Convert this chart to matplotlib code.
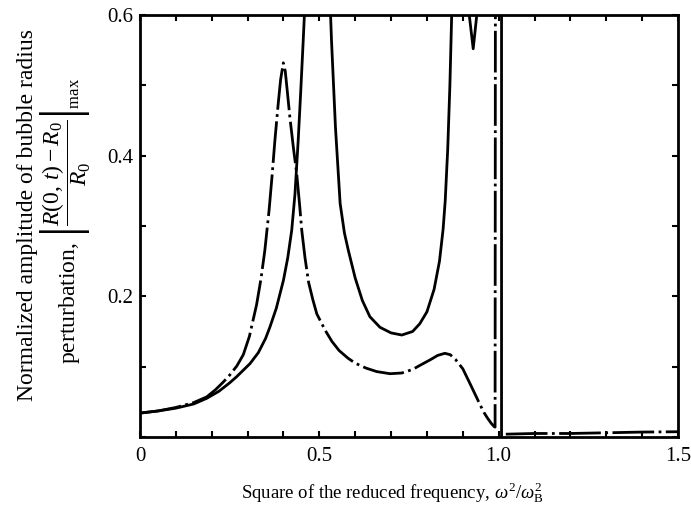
import numpy as np
import matplotlib
matplotlib.use("Agg")
import matplotlib.pyplot as plt
from matplotlib.ticker import MultipleLocator, FixedLocator, FixedFormatter

# ---- data ----
# curve A (dash-dot curve, peak near 0.4 and local max near 0.85)
curve_a_x = [0.0, 0.05, 0.1, 0.15, 0.186, 0.21, 0.232, 0.25, 0.27, 0.288, 0.305, 0.325, 0.337,
             0.348, 0.36, 0.368, 0.376, 0.385, 0.392, 0.3996, 0.405, 0.41, 0.418, 0.428, 0.437,
             0.445, 0.451, 0.46, 0.47, 0.482, 0.493, 0.505, 0.516, 0.535, 0.555, 0.58, 0.60,
             0.63, 0.66, 0.697, 0.73, 0.76, 0.781, 0.81, 0.83, 0.85, 0.865, 0.88, 0.90, 0.92,
             0.935, 0.948, 0.96, 0.97, 0.98, 0.987, 0.99, 0.991]
curve_a_y = [0.034, 0.037, 0.042, 0.049, 0.057, 0.067, 0.078, 0.088, 0.101, 0.117, 0.143, 0.188,
             0.224, 0.265, 0.323, 0.37, 0.421, 0.472, 0.508, 0.532, 0.52, 0.495, 0.454, 0.41,
             0.374, 0.33, 0.294, 0.255, 0.22, 0.195, 0.175, 0.163, 0.152, 0.136, 0.123, 0.112,
             0.105, 0.098, 0.093, 0.090, 0.091, 0.096, 0.102, 0.110, 0.116, 0.119, 0.117, 0.110,
             0.097, 0.076, 0.060, 0.046, 0.034, 0.026, 0.019, 0.015, 0.014, 0.70]
# continuation of curve A beyond the resonance at 1.0
tail_x = [1.02, 1.1, 1.2, 1.3, 1.4, 1.5]
tail_y = [0.004, 0.005, 0.005, 0.006, 0.007, 0.0075]

# curve B (solid curve)
curve_b_x = [0.0, 0.05, 0.1, 0.15, 0.186, 0.22, 0.25, 0.269, 0.29, 0.307, 0.33, 0.35, 0.362,
             0.38, 0.40, 0.412, 0.423, 0.432, 0.441, 0.448, 0.455, 0.462, 0.475, 0.49, 0.505,
             0.52, 0.527, 0.534, 0.545, 0.558, 0.57, 0.581, 0.60, 0.62, 0.641, 0.669, 0.70,
             0.73, 0.76, 0.78, 0.80, 0.82, 0.835, 0.845, 0.851, 0.858, 0.864, 0.869, 0.873,
             0.88, 0.905, 0.918, 0.929, 0.939, 0.952, 0.99, 1.006, 1.008, 1.008]
curve_b_y = [0.034, 0.037, 0.041, 0.047, 0.055, 0.065, 0.077, 0.0855, 0.096, 0.1045, 0.12,
             0.140, 0.156, 0.183, 0.223, 0.255, 0.294, 0.345, 0.421, 0.49, 0.563, 0.64, 0.9,
             1.3, 1.2, 0.85, 0.66, 0.563, 0.44, 0.332, 0.29, 0.265, 0.226, 0.194, 0.171, 0.156,
             0.148, 0.145, 0.150, 0.161, 0.178, 0.210, 0.250, 0.295, 0.336, 0.41, 0.50, 0.60,
             0.68, 0.75, 0.66, 0.60, 0.552, 0.60, 0.66, 0.75, 0.75, 0.60, 0.0]

x_major = [0, 0.5, 1.0, 1.5]
x_major_labels = ["0", "0.5", "1.0", "1.5"]
y_major = [0.2, 0.4, 0.6]
y_major_labels = ["0.2", "0.4", "0.6"]

# ---- style ----
plt.rcParams["font.family"] = ["Liberation Serif", "DejaVu Serif"]
plt.rcParams["mathtext.fontset"] = "custom"
plt.rcParams["mathtext.rm"] = "Liberation Serif"
plt.rcParams["mathtext.it"] = "Liberation Serif:italic"
plt.rcParams["mathtext.bf"] = "Liberation Serif:bold"
plt.rcParams["mathtext.fallback"] = "cm"

fig = plt.figure(figsize=(6.91, 5.12), dpi=100)
ax = fig.add_axes([140 / 691, 1 - 437 / 512, (678 - 140) / 691, (437 - 15) / 512])

lw = 2.0
dashdot = (0, (15, 1.6, 1.0, 1.6))
ax.plot(curve_b_x, curve_b_y, color="black", lw=lw, solid_joinstyle="round")
ax.plot(curve_a_x, curve_a_y, color="black", lw=lw, linestyle=dashdot)
ax.plot(tail_x, tail_y, color="black", lw=lw, linestyle=dashdot)

ax.set_xlim(0, 1.5)
ax.set_ylim(0, 0.6)

ax.xaxis.set_major_locator(FixedLocator(x_major))
ax.xaxis.set_major_formatter(FixedFormatter(x_major_labels))
ax.xaxis.set_minor_locator(MultipleLocator(0.1))
ax.yaxis.set_major_locator(FixedLocator(y_major))
ax.yaxis.set_major_formatter(FixedFormatter(y_major_labels))
ax.yaxis.set_minor_locator(MultipleLocator(0.1))

ax.tick_params(which="both", direction="in", top=True, right=True, width=1.5, length=4.5)
ax.tick_params(axis="x", which="major", pad=7, labelsize=15)
ax.tick_params(axis="y", which="major", pad=5, labelsize=15)
for s in ax.spines.values():
    s.set_linewidth(2.0)

fig.text(392 / 691, 1 - 493 / 512,
         r"Square of the reduced frequency, $\omega^2/\omega_{\mathrm{B}}^2$",
         ha="center", va="center", fontsize=13.5)

fig.text(28 / 691, 1 - 215 / 512, "Normalized amplitude of bubble radius",
         rotation=90, ha="center", va="center", fontsize=17)
fig.text(65 / 691, 1 - 221 / 512,
         r"perturbation, $\left|\dfrac{R(0,\,t)-R_0}{R_0}\right|_{\mathrm{max}}$",
         rotation=90, ha="center", va="center", fontsize=17)

fig.savefig("out.png", dpi=100)
